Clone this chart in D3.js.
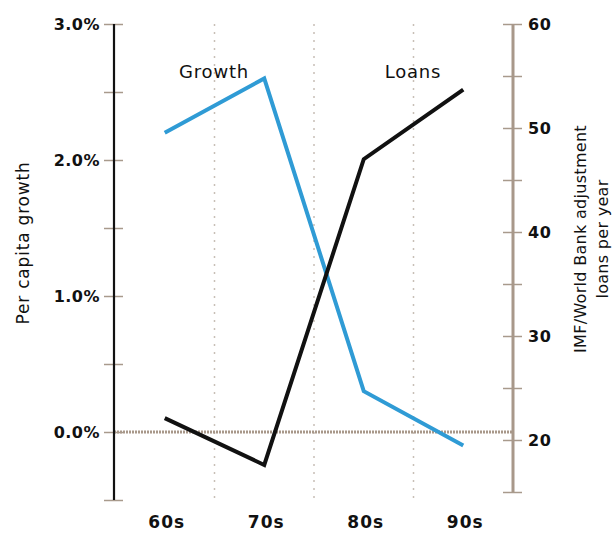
<!DOCTYPE html>
<html><head><meta charset="utf-8">
<script src="https://cdn.jsdelivr.net/npm/d3@7"></script>
<style>
html,body{margin:0;padding:0;background:#fff;}
text{font-family:"DejaVu Sans",sans-serif;fill:#111;}
</style></head>
<body>
<svg id="c" width="614" height="533"></svg>
<script>
const decades = ["60s","70s","80s","90s"];
const growth = [2.2, 2.6, 0.3, -0.1];
const loans = [22.1, 17.6, 47.0, 53.7];
const growthTicks = [-0.5,0,0.5,1,1.5,2,2.5,3];
const growthLabels = [0,1,2,3];
const loanTicks = [15,20,25,30,35,40,45,50,55,60];
const loanLabels = [20,30,40,50,60];

const svg = d3.select("#c");
const x = d3.scaleBand().domain(decades).range([115,513]);
const yL = d3.scaleLinear().domain([-0.5,3.0]).range([500,24]);
const yR = d3.scaleLinear().domain([15,60]).range([492,24]);
const cx = d => x(d) + x.bandwidth()/2;

const tickCol = "#a89a8c";
// vertical dotted gridlines
svg.append("g").selectAll("line").data(decades.slice(1)).join("line")
  .attr("x1", d=>x(d)).attr("x2", d=>x(d)).attr("y1", 24).attr("y2", 500)
  .attr("stroke", "#c8bfb6").attr("stroke-width", 1.5).attr("stroke-dasharray","2,6");

// zero line
svg.append("line").attr("x1",114).attr("x2",513).attr("y1",yL(0)).attr("y2",yL(0))
  .attr("stroke","#a8988a").attr("stroke-width",3).attr("stroke-dasharray","2,1");

// left axis
const gl = svg.append("g").attr("transform","translate(114,0)")
  .call(d3.axisLeft(yL).tickValues(growthTicks).tickSize(0).tickFormat(""));
gl.select(".domain").remove();
gl.selectAll(".tick line").remove();
gl.selectAll(".tick").append("line").attr("x1",-10).attr("x2",9)
  .attr("stroke",tickCol).attr("stroke-width",1.5);
gl.append("line").attr("x1",0).attr("x2",0).attr("y1",yL(3)).attr("y2",yL(-0.5))
  .attr("stroke","#111").attr("stroke-width",2.2);
svg.append("g").selectAll("text").data(growthLabels).join("text")
  .attr("x",100).attr("y",d=>yL(d)).attr("dy","0.36em").attr("text-anchor","end")
  .attr("font-size",16).attr("font-weight","bold").attr("letter-spacing",0.5)
  .text(d=>d3.format(".1f")(d)+"%");

// right axis
const gr = svg.append("g").attr("transform","translate(513,0)")
  .call(d3.axisRight(yR).tickValues(loanTicks).tickSize(0).tickFormat(""));
gr.select(".domain").remove();
gr.selectAll(".tick line").remove();
gr.selectAll(".tick").append("line").attr("x1",-10).attr("x2",9)
  .attr("stroke",tickCol).attr("stroke-width",1.5);
gr.append("line").attr("x1",0).attr("x2",0).attr("y1",yR(60)).attr("y2",yR(15))
  .attr("stroke","#a8988a").attr("stroke-width",3);
svg.append("g").selectAll("text").data(loanLabels).join("text")
  .attr("x",528).attr("y",d=>yR(d)).attr("dy","0.36em").attr("text-anchor","start")
  .attr("font-size",16).attr("font-weight","bold").attr("letter-spacing",0.5)
  .text(d=>d);

// x labels
svg.append("g").selectAll("text").data(decades).join("text")
  .attr("x",d=>cx(d)+2).attr("y",528).attr("text-anchor","middle")
  .attr("font-size",17).attr("font-weight","bold").attr("letter-spacing",1)
  .text(d=>d);

// lines
const lineG = d3.line().x((d,i)=>cx(decades[i])).y(d=>yL(d));
const lineL = d3.line().x((d,i)=>cx(decades[i])).y(d=>yR(d));
svg.append("path").datum(growth).attr("d",lineG).attr("fill","none")
  .attr("stroke","#2f9bd5").attr("stroke-width",4).attr("stroke-linejoin","miter");
svg.append("path").datum(loans).attr("d",lineL).attr("fill","none")
  .attr("stroke","#111").attr("stroke-width",4).attr("stroke-linejoin","miter");

// annotations
svg.append("text").attr("x",214).attr("y",78).attr("text-anchor","middle")
  .attr("font-size",18).attr("letter-spacing",0.8).text("Growth");
svg.append("text").attr("x",413).attr("y",78).attr("text-anchor","middle")
  .attr("font-size",18).attr("letter-spacing",0.8).text("Loans");

// axis titles
svg.append("text").attr("transform","translate(29,243) rotate(-90)")
  .attr("text-anchor","middle").attr("font-size",17).attr("letter-spacing",0.8)
  .text("Per capita growth");
const rt = svg.append("text").attr("transform","translate(586,239) rotate(-90)")
  .attr("text-anchor","middle").attr("font-size",16).attr("letter-spacing",0.3);
rt.append("tspan").attr("x",0).attr("dy",0).text("IMF/World Bank adjustment");
rt.append("tspan").attr("x",0).attr("dy",22).text("loans per year");
</script>
</body></html>
